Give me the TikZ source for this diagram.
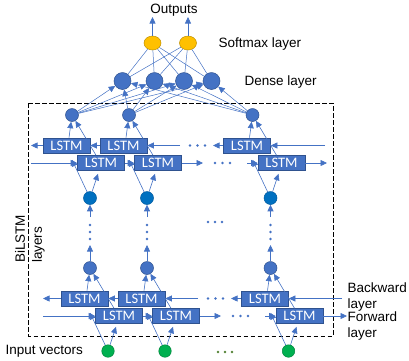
\documentclass[tikz,border=0pt]{standalone}
\usepackage{fontspec}
\setmainfont{Liberation Sans}
\newfontfamily\cellfont{Carlito}
\usetikzlibrary{arrows.meta,calc,shapes.geometric}

\definecolor{unitblue}{HTML}{4472C4}
\definecolor{unitedge}{HTML}{2F528F}
\definecolor{deepblue}{HTML}{0070C0}
\definecolor{deepedge}{HTML}{005A9E}
\definecolor{softgold}{HTML}{FFC000}
\definecolor{goldedge}{HTML}{BF9000}
\definecolor{inputgreen}{HTML}{00B050}
\definecolor{greenedge}{HTML}{00843C}
\definecolor{linkblue}{HTML}{4472C4}
\definecolor{dotgreen}{HTML}{548235}

\begin{document}
\begin{tikzpicture}[x=1pt,y=-1pt,
  link/.style={draw=linkblue,line width=0.6pt},
  flow/.style={link,-{Triangle[length=6.5pt,width=6pt]}},
  lstmbox/.style={rectangle,draw=unitedge,fill=unitblue,line width=0.6pt,
    minimum width=47pt,minimum height=15pt,inner sep=0pt,text=white,
    font=\cellfont\fontsize{14.5}{14.5}\selectfont},
  cellunit/.style={circle,line width=0.5pt,inner sep=0pt,minimum size=13pt},
  hidunit/.style={cellunit,draw=unitedge,fill=unitblue},
  linkunit/.style={cellunit,draw=deepedge,fill=deepblue},
  inunit/.style={cellunit,draw=greenedge,fill=inputgreen,minimum size=12.5pt},
  denseunit/.style={circle,draw=unitedge,fill=unitblue,line width=0.5pt,
    inner sep=0pt,minimum size=17pt},
  softunit/.style={ellipse,draw=goldedge,fill=softgold,line width=0.5pt,
    inner sep=0pt,minimum width=17pt,minimum height=14pt},
  txt/.style={inner sep=0pt,font=\fontsize{13.5}{15.5}\selectfont},
  frame/.style={draw=black,line width=0.9pt,dash pattern=on 4.5pt off 2.5pt},
]
\useasboundingbox (0,0) rectangle (409,360);

% dashed frame around the stacked BiLSTM layers
\draw[frame] (28.5,103) rectangle (333,336);

% two BiLSTM layers: t = upper, b = lower
\foreach \L/\dx/\dy/\lft/\rbw/\rfw/\ist in
  {t/0/0/31/325/327/linkunit, b/18/153/25/324/329/inunit}{
  \begin{scope}[shift={(\dx,\dy)}]
    \foreach \c/\h in {1/72,2/129,3/252.5}{
      \node[hidunit] (\L h\c) at (\h,115) {};
      \node[lstmbox] (\L bw\c) at (\h-5.5,145.5) {LSTM};
      \node[lstmbox] (\L fw\c) at (\h+29,163) {LSTM};
      \node[\ist] (\L in\c) at (\h+18,198) {};
    }
    \foreach \c in {1,2,3}{
      \draw[flow] ($(\L bw\c.north)+(2.5,0)$) -- (\L h\c);
      \draw[flow] ($(\L fw\c.north)+(-5,0)$) -- (\L h\c);
      \draw[flow] (\L in\c) -- ($(\L fw\c.south)+(-3,3)$);
      \draw[flow] (\L in\c) -- ($(\L bw\c.south)+(5.5,6.5)$);
    }
    % backward direction
    \coordinate (\L bwl) at (\lft,145.5);
    \coordinate (\L bwm) at (180,145.5);
    \coordinate (\L bwn) at (213,145.5);
    \coordinate (\L bwr) at (\rbw,145.5);
    \draw[flow] (\L bw1.west) -- (\L bwl);
    \draw[flow] (\L bw2.west) -- (\L bw1.east);
    \draw[flow] (\L bwm) -- (\L bw2.east);
    \draw[flow] (\L bw3.west) -- (\L bwn);
    \draw[flow] (\L bwr) -- (\L bw3.east);
    \foreach \x in {190,197.5,205} \fill[linkblue] (\x,145.5) circle (1.3pt);
    % forward direction
    \coordinate (\L fwl) at (\lft,163);
    \coordinate (\L fwm) at (203,163);
    \coordinate (\L fwn) at (247,163);
    \coordinate (\L fwr) at (\rfw,163);
    \draw[flow] (\L fwl) -- (\L fw1.west);
    \draw[flow] (\L fw1.east) -- (\L fw2.west);
    \draw[flow] (\L fw2.east) -- (\L fwm);
    \draw[flow] (\L fwn) -- (\L fw3.west);
    \draw[flow] (\L fw3.east) -- (\L fwr);
    \foreach \x in {215,222.5,230} \fill[linkblue] (\x,163) circle (1.3pt);
  \end{scope}
}

% elided layers between the two BiLSTM layers
\foreach \c/\x in {1/90,2/147,3/270.5}{
  \coordinate (up\c) at (\x,245);
  \coordinate (dn\c) at (\x,217);
  \draw[flow] (bh\c) -- (up\c);
  \draw[flow] (dn\c) -- (tin\c);
  \foreach \y in {225,232,239} \fill[linkblue] (\x,\y) circle (1.3pt);
}
\foreach \x in {208,215,222} \fill[linkblue] (\x,222) circle (1.3pt);
\foreach \x in {218,225,232} \fill[dotgreen] (\x,352) circle (1.3pt);

% dense and softmax layers
\foreach \j/\x in {1/122.5,2/154.5,3/184,4/211.5}
  \node[denseunit] (d\j) at (\x,81) {};
\node[softunit] (s1) at (152.5,43) {};
\node[softunit] (s2) at (188,43) {};
\coordinate (o1) at (152.5,17);
\coordinate (o2) at (188,17);
\foreach \i in {1,2}{
  \draw[flow] (s\i) -- (o\i);
  \foreach \j in {1,...,4} \draw[link,line width=0.5pt] (s\i) -- (d\j);
}
\foreach \i in {1,2,3}
  \foreach \j in {1,...,4}
    \draw[flow,line width=0.5pt] (th\i) -- (d\j);

% labels
\node[txt,anchor=base] (outs) at (174,13.5) {Outputs};
\node[txt,anchor=base west] (smx) at (218.5,47) {Softmax layer};
\node[txt,anchor=base west] (dns) at (244.5,85.5) {Dense layer};
\node[txt,anchor=base west] (ivec) at (5.5,354) {Input vectors};
\node[txt,anchor=north west,align=left] (bwtxt) at (347.5,283) {Backward\\layer};
\node[txt,anchor=north west,align=left] (fwtxt) at (347.5,312) {Forward\\layer};
\node[txt,anchor=north west,align=left,rotate=90,
  font=\fontsize{13.5}{17}\selectfont] (bil) at (15,263) {BiLSTM\\layers};
\end{tikzpicture}
\end{document}
